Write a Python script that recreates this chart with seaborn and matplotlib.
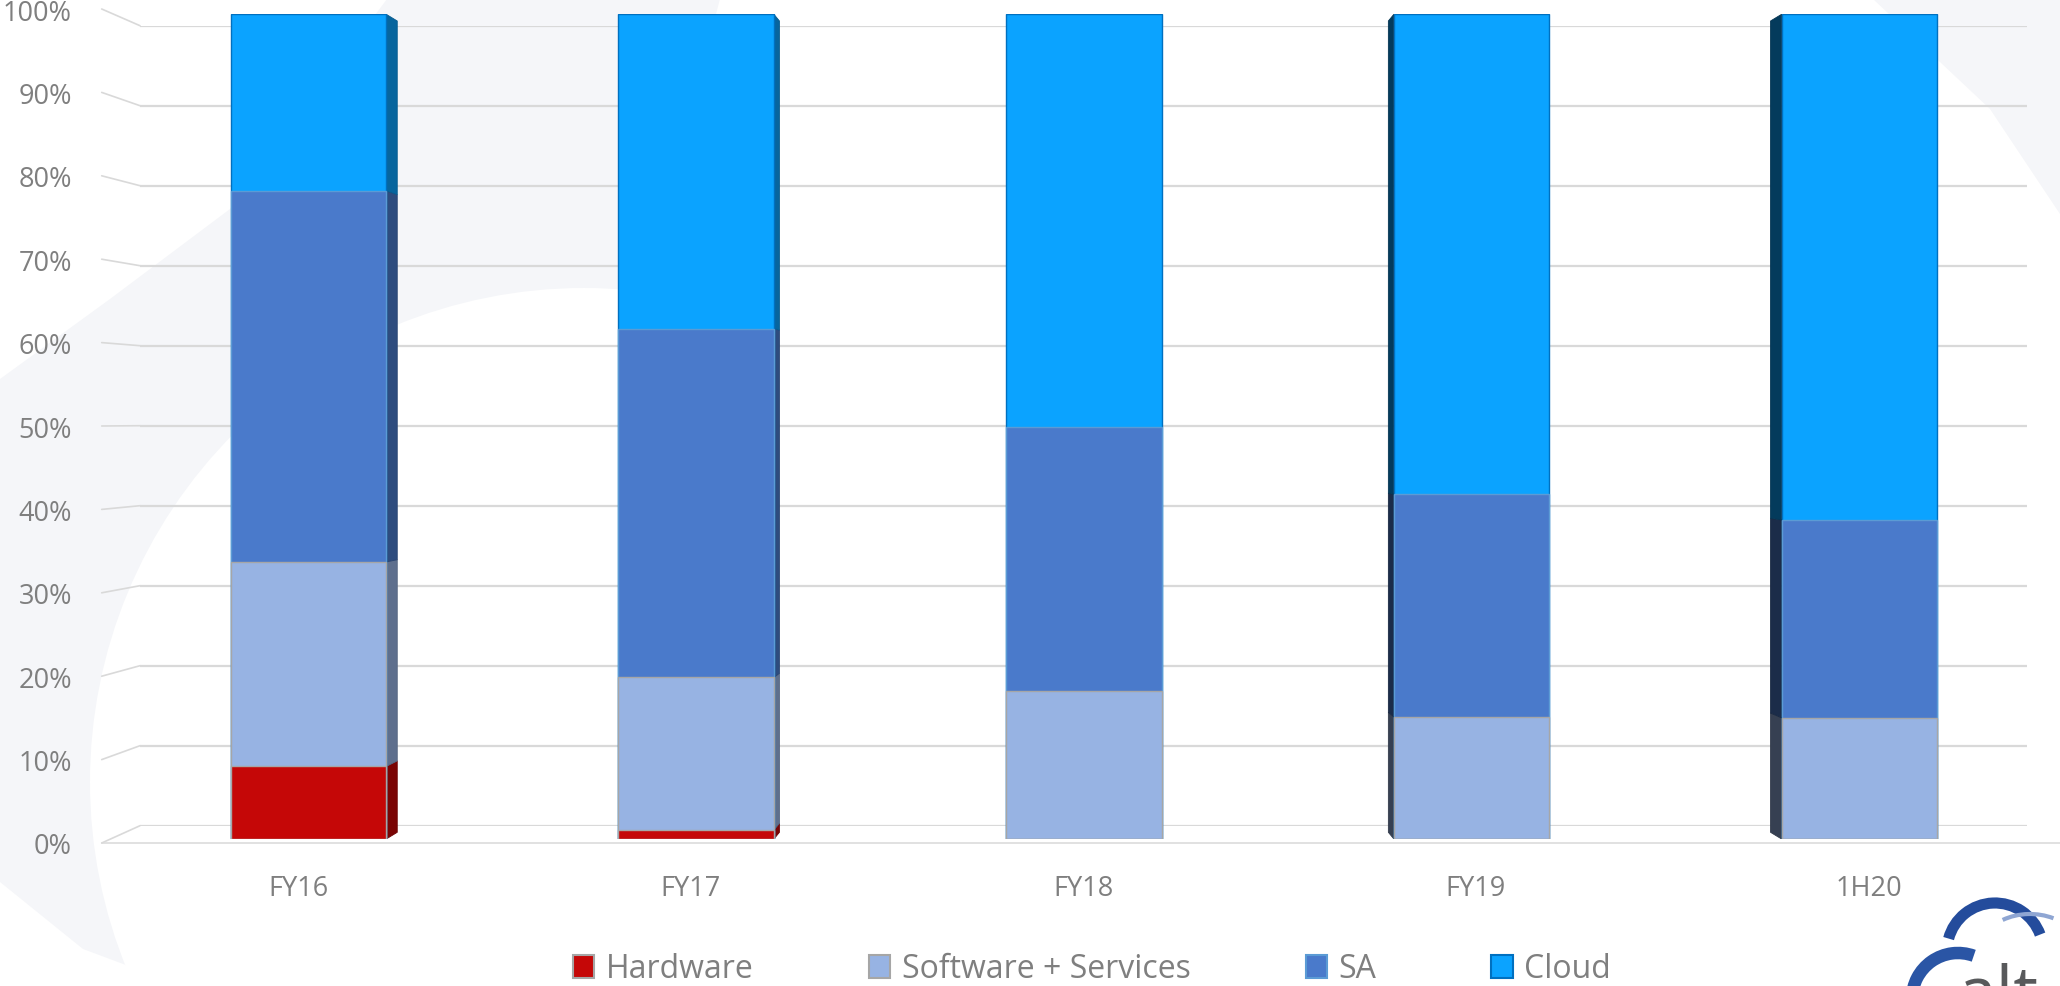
import numpy as np
import pandas as pd
import matplotlib
matplotlib.use("Agg")
import matplotlib.pyplot as plt
import matplotlib.colors as mcolors
from matplotlib.patches import Patch, Polygon, Arc, Circle
from matplotlib.lines import Line2D
import seaborn as sns

# ---------------- data ----------------
periods = ["FY16", "FY17", "FY18", "FY19", "1H20"]
hardware = [8.8, 1.1, 0.0, 0.0, 0.0]
software_services = [24.8, 18.5, 18.0, 14.8, 14.7]
sa = [45.0, 42.3, 32.0, 27.0, 24.0]
cloud = [21.4, 38.1, 50.0, 58.2, 61.3]
series_names = ["Hardware", "Software + Services", "SA", "Cloud"]
y_ticks = [0, 10, 20, 30, 40, 50, 60, 70, 80, 90, 100]
y_tick_labels = [f"{v}%" for v in y_ticks]

face_colors = {"Hardware": "#C50707", "Software + Services": "#97B3E3",
               "SA": "#4A7ACB", "Cloud": "#0BA3FF"}
edge_colors = {"Hardware": "#A6A6A6", "Software + Services": "#A6A6A6",
               "SA": "#5B9BD5", "Cloud": "#0070C0"}

df = pd.DataFrame({"period": periods, "Hardware": hardware,
                   "Software + Services": software_services,
                   "SA": sa, "Cloud": cloud})

# ---------------- style ----------------
sns.set_style("white")
plt.rcParams["font.family"] = ["Open Sans", "DejaVu Sans"]
TXT = "#7F7F7F"
GRID = "#D9D9D9"
WATERMARK = "#F5F6F9"

W, H = 2060, 987
fig = plt.figure(figsize=(W / 100, H / 100), dpi=100)
fig.patch.set_facecolor("white")


def rect(left, right, top, bottom):
    return [left / W, 1 - bottom / H, (right - left) / W, (bottom - top) / H]


# background overlay (pixel coordinates, y down)
ax_bg = fig.add_axes([0, 0, 1, 1])
ax_bg.set_xlim(0, W)
ax_bg.set_ylim(H, 0)
ax_bg.axis("off")
ax_bg.set_zorder(0)

# faint watermark shapes
ax_bg.add_patch(Polygon([(387, 0), (720, 0), (640, 300), (300, 400), (100, 700),
                         (120, 950), (267, 987), (150, 975), (83, 950), (0, 883),
                         (0, 380), (110, 300), (230, 210)],
                        closed=True, facecolor=WATERMARK, edgecolor="none"))
ax_bg.add_patch(Circle((584, 783), 494, facecolor="white", edgecolor="none"))
ax_bg.add_patch(Polygon([(1873, 0), (2060, 0), (2060, 215), (1990, 110)],
                        closed=True, facecolor=WATERMARK, edgecolor="none"))

# back wall gridlines
ax_back = fig.add_axes(rect(140, 2027, 26.7, 826.7))
ax_back.set_zorder(1)
ax_back.set_facecolor("none")
ax_back.set_xlim(0, 1)
ax_back.set_ylim(0, 100)
ax_back.set_yticks(y_ticks)
ax_back.set_xticks([])
ax_back.yaxis.grid(True, color=GRID, linewidth=1.6)
ax_back.tick_params(axis="y", length=0, labelleft=False)
for s in ax_back.spines.values():
    s.set_visible(False)

# front plane: labels, floor line, category ticks
ax_front = fig.add_axes(rect(101.7, 2064.7, 10, 844))
ax_front.set_zorder(2)
ax_front.set_facecolor("none")
ax_front.set_xlim(-0.5, 4.5)
ax_front.set_ylim(0, 100)
ax_front.set_yticks(y_ticks)
ax_front.set_yticklabels(y_tick_labels)
ax_front.tick_params(axis="y", length=0, pad=21.4, labelsize=19.5, labelcolor=TXT)
ax_front.set_xticks([-0.5, 0.5, 1.5, 2.5, 3.5])
ax_front.set_xticklabels([])
ax_front.tick_params(axis="x", which="major", length=7.5, width=1.1, color=GRID)
ax_front.set_xticks(range(len(periods)), minor=True)
ax_front.set_xticklabels(periods, minor=True)
ax_front.tick_params(axis="x", which="minor", length=0, pad=22.0,
                     labelsize=19.5, labelcolor=TXT)
for name, s in ax_front.spines.items():
    s.set_visible(name == "bottom")
ax_front.spines["bottom"].set_color(GRID)
ax_front.spines["bottom"].set_linewidth(1.1)

# diagonal connectors (3D floor / wall edge)
to_fig = fig.transFigure.inverted()
for v in y_ticks:
    p1 = to_fig.transform(ax_front.transData.transform((-0.5, v)))
    p2 = to_fig.transform(ax_back.transData.transform((0.0, v)))
    fig.add_artist(Line2D([p1[0], p2[0]], [p1[1], p2[1]], color=GRID,
                          linewidth=1.2, transform=fig.transFigure, zorder=1.5))

# bars
ax_bar = fig.add_axes(rect(114.65, 2053.15, 15.3, 840))
ax_bar.set_zorder(3)
ax_bar.set_facecolor("none")

cum = df[series_names].cumsum(axis=1)
for name in reversed(series_names):
    d = pd.DataFrame({"period": periods, "value": cum[name].values})
    sns.barplot(data=d, x="period", y="value", order=periods,
                color=face_colors[name], saturation=1, width=0.401,
                edgecolor=edge_colors[name], linewidth=1.0,
                errorbar=None, ax=ax_bar, zorder=2)

ax_bar.set_xlim(-0.5, 4.5)
ax_bar.set_ylim(0, 100)
ax_bar.axis("off")


def shade(color, f):
    r, g, b = mcolors.to_rgb(color)
    return (r * f, g * f, b * f)


# side faces (pseudo-3D depth)
bar_w = 0.401
vanish_x = 2.0
for i in range(len(periods)):
    dx = -(i - vanish_x) * 0.0142
    if abs(dx) < 1e-6:
        continue
    xe = i + bar_w / 2 if dx > 0 else i - bar_w / 2
    fac = 0.62 if dx > 0 else 0.36
    bottom = 0.0
    for name in series_names:
        top = cum[name].iloc[i]
        if top - bottom > 0:
            poly = Polygon([(xe, bottom), (xe, top),
                            (xe + dx, 0.81 + 0.9838 * top),
                            (xe + dx, 0.81 + 0.9838 * bottom)],
                           closed=True, facecolor=shade(face_colors[name], fac),
                           edgecolor=shade(face_colors[name], fac * 0.9),
                           linewidth=0.6, zorder=1)
            ax_bar.add_patch(poly)
        bottom = top

# legend
handles = [Patch(facecolor=face_colors[n], edgecolor=edge_colors[n], linewidth=1.5)
           for n in series_names]
fig.legend(handles, series_names, loc="center", bbox_to_anchor=(1092 / W, 1 - 970 / H),
           ncol=4, frameon=False, fontsize=23, handlelength=0.67, handleheight=0.71,
           handletextpad=0.36, columnspacing=3.6, labelcolor=TXT)

# logo fragment (bottom right)
ax_bg.add_patch(Arc((1958, 1000), 92, 92, theta1=180, theta2=290,
                    color="#2A55A5", linewidth=9, zorder=5))
ax_bg.add_patch(Arc((1995, 952), 96, 96, theta1=195, theta2=340,
                    color="#244C9C", linewidth=8, zorder=5))
ax_bg.add_patch(Arc((2030, 960), 110, 90, theta1=235, theta2=300,
                    color="#8FA6D3", linewidth=3, zorder=5))
ax_bg.text(1958, 1015, "alt", fontsize=50, color="#58595B",
           ha="left", va="baseline", family=["Open Sans", "DejaVu Sans"], zorder=5)

fig.savefig("out.png", dpi=100, facecolor="white")
